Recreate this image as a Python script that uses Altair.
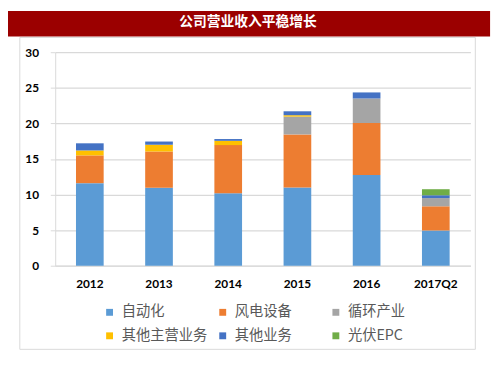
import altair as alt
import pandas as pd

years = ["2012", "2013", "2014", "2015", "2016", "2017Q2"]
series = ["自动化", "风电设备", "循环产业", "其他主营业务", "其他业务", "光伏EPC"]
colors = ["#5B9BD5", "#ED7D31", "#A5A5A5", "#FFC000", "#4472C4", "#70AD47"]

auto = [11.6, 10.95, 10.2, 11.0, 12.75, 4.95]
wind = [3.9, 5.1, 6.75, 7.45, 7.3, 3.4]
cycle = [0, 0, 0, 2.5, 3.45, 1.15]
other_main = [0.7, 0.95, 0.6, 0.2, 0, 0]
other_biz = [1.0, 0.45, 0.25, 0.55, 0.85, 0.4]
pv_epc = [0, 0, 0, 0, 0, 0.85]

title_text = "公司营业收入平稳增长"

values = [auto, wind, cycle, other_main, other_biz, pv_epc]
rows = []
for si, (name, vals) in enumerate(zip(series, values)):
    for yr, v in zip(years, vals):
        rows.append({"year": yr, "series": name, "value": v, "idx": si})
df = pd.DataFrame(rows)

one = alt.Data(values=[{}])

banner = alt.Chart(one).mark_rect(color="#9B0000").encode(
    x=alt.value(-48), x2=alt.value(442), y=alt.value(-42), y2=alt.value(-16)
)
title = alt.Chart(one).mark_text(
    text=title_text, color="white", font="Noto Sans CJK SC", fontWeight="bold",
    fontSize=14, align="center", baseline="middle"
).encode(x=alt.value(196), y=alt.value(-31))
border = alt.Chart(one).mark_rect(fillOpacity=0, stroke="#D9D9D9", strokeWidth=1).encode(
    x=alt.value(-36), x2=alt.value(427), y=alt.value(-15), y2=alt.value(302)
)

bars = alt.Chart(df).mark_bar().encode(
    x=alt.X("year:N", sort=years, title=None,
            scale=alt.Scale(paddingInner=0.6, paddingOuter=0.3),
            axis=alt.Axis(labelAngle=0, labelFont="Lato", labelFontWeight="bold",
                          labelFontSize=12, labelColor="#000000", ticks=False,
                          domainColor="#D9D9D9", labelPadding=13)),
    y=alt.Y("value:Q", stack="zero", title=None,
            scale=alt.Scale(domain=[0, 30]),
            axis=alt.Axis(values=[0, 5, 10, 15, 20, 25, 30], labelFont="Lato",
                          labelFontWeight="bold", labelFontSize=12, labelColor="#000000",
                          tickColor="#D9D9D9", tickSize=5, labelPadding=12,
                          domainColor="#D9D9D9", gridColor="#D9D9D9", gridWidth=1.3)),
    color=alt.Color("series:N", sort=series,
                    scale=alt.Scale(domain=series, range=colors),
                    legend=alt.Legend(title=None, orient="none", legendX=48, legendY=257,
                                      direction="horizontal",
                                      columns=3, gridAlign="all", columnPadding=8,
                                      rowPadding=9, symbolType="square", symbolSize=49,
                                      symbolStrokeWidth=0, labelFont="Noto Sans CJK SC",
                                      labelFontSize=14.5, labelColor="#595959",
                                      labelOffset=5, padding=0)),
    order=alt.Order("idx:Q", sort="ascending"),
)

chart = alt.layer(banner, border, title, bars).properties(
    width=422, height=217, autosize="none",
    padding={"left": 48, "top": 42, "right": 25, "bottom": 100},
    background="white"
).configure_view(stroke=None)

chart.save("out.html", embed_options={"renderer": "svg", "actions": False})
